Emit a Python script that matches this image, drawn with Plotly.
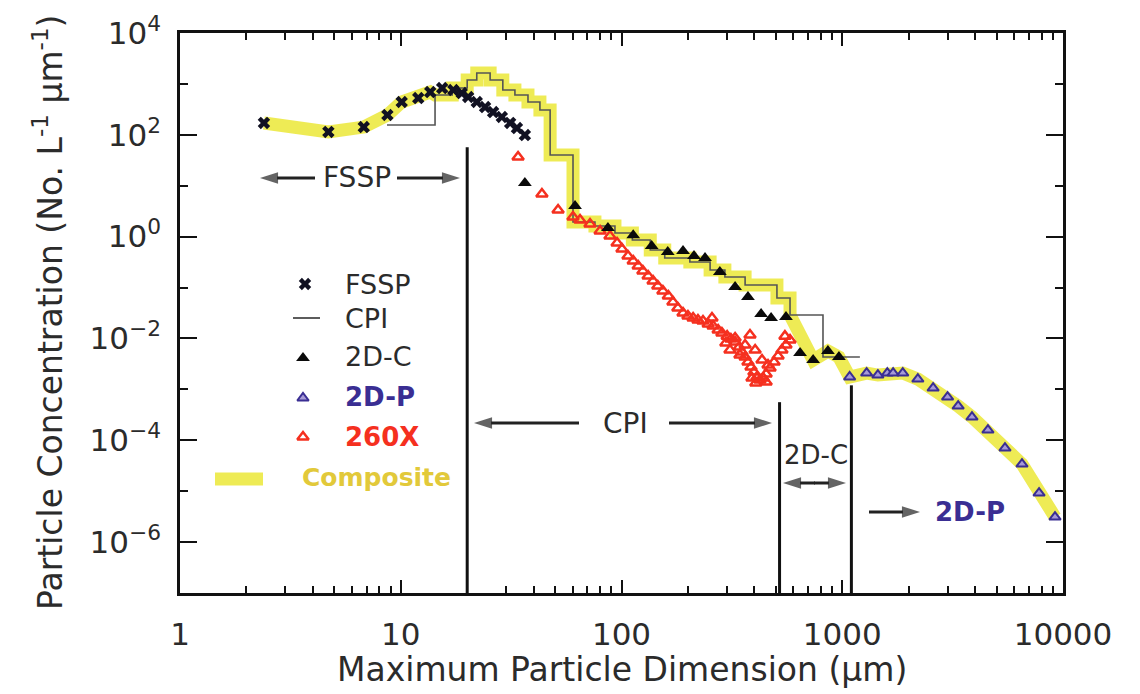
import plotly.graph_objects as go

FONT = "DejaVu Sans"

# ---- measured size distributions (diameter in µm, concentration in No. L^-1 µm^-1) ----
# FSSP
fssp_d = [2.4, 4.7, 6.8, 8.7, 10.1, 12.0, 13.6, 15.4, 17.3, 18.9, 20.2, 22.1, 24.1, 26.2,
          28.7, 31.3, 33.6, 36.5]
fssp_n = [171, 114, 142, 245, 441, 528, 693, 830, 759, 662, 553, 441, 351, 280, 224, 171,
          136, 99]

# CPI: bin edges and bin concentrations
cpi_edges = [8.66, 14.3, 17.1, 20.0, 22.1, 25.4, 29.0, 32.9, 37.7, 42.7, 47.5, 60.3, 75.8,
             93.4, 112, 135, 157, 204, 252, 294, 363, 506, 580, 818, 1202]
cpi_n = [156, 606, 830, 1193, 1638, 1193, 759, 606, 441, 307, 40.1, 1.94, 1.62, 1.18,
         0.857, 0.546, 0.380, 0.317, 0.221, 0.161, 0.112, 0.0622, 0.0288, 0.00431]

# 2D-C
twodc_d = [36.5, 61.6, 86.8, 113, 137, 162, 190, 213, 239, 279, 327, 374, 429, 476, 556,
           644, 738, 861, 966]
twodc_n = [11.3, 3.99, 1.48, 1.07, 0.653, 0.498, 0.521, 0.416, 0.380, 0.202, 0.102, 0.0651,
           0.0301, 0.0252, 0.0263, 0.00516, 0.00377, 0.00565, 0.00431]

# 2D-P
twodp_d = [1080, 1290, 1450, 1600, 1700, 1880, 2200, 2580, 3000, 3350, 3870, 4570, 5460,
           6520, 7790, 9200]
twodp_n = [1.75e-3, 2.09e-3, 1.91e-3, 2.09e-3, 2.09e-3, 2.09e-3, 1.59e-3, 1.06e-3, 7.06e-4,
           4.70e-4, 2.86e-4, 1.59e-4, 7.03e-5, 3.41e-5, 9.18e-6, 3.10e-6]

# 260X
p260_d = [34.0, 43.6, 51.6, 60.3, 64.9, 72.0, 80.0, 88.7, 95.5, 100.5, 107, 113, 119, 125,
          132, 139, 146, 154, 163, 171, 180, 190, 200, 211, 222, 234, 247, 260, 274, 285,
          301, 313, 327, 341, 351, 363, 374, 386, 398, 411, 424, 438, 452, 471, 491, 512,
          533, 556, 580, 327, 382, 363, 403, 433, 461, 406, 390, 297, 257, 310, 344, 452, 550]
p260_n = [36.6, 6.87, 3.33, 2.43, 2.12, 1.77, 1.29, 1.03, 0.748, 0.570, 0.416, 0.332, 0.264,
          0.211, 0.168, 0.134, 0.107, 0.0853, 0.0681, 0.0519, 0.0395, 0.0315, 0.0275, 0.0252,
          0.0230, 0.0220, 0.0192, 0.0175, 0.0146, 0.0128, 0.0111, 0.00973, 0.00849, 0.00678,
          0.00541, 0.00431, 0.00344, 0.00274, 0.00219, 0.00175, 0.00152, 0.00167, 0.00200,
          0.00262, 0.00344, 0.00451, 0.00592, 0.00741, 0.00931, 0.0102, 0.0117, 0.00741,
          0.00592, 0.00377, 0.00300, 0.00133, 0.00167, 0.00813, 0.0252, 0.00592, 0.00472,
          0.00139, 0.0111]

# instrument range boundaries (µm) and the height of each boundary line
range_edges = [20, 520, 1100]
range_tops = [57, 5.6e-4, 1.2e-3]

# composite: FSSP below the first CPI step, CPI steps up to 580 µm, 2D-C, then 2D-P
cpi_stop = 580
twodc_start = 700
comp_d, comp_n = [], []
for d, n in zip(fssp_d, fssp_n):
    if d < cpi_edges[1]:
        comp_d.append(d)
        comp_n.append(n)
i_stop = cpi_edges.index(cpi_stop)
for i in range(1, i_stop):
    comp_d += [cpi_edges[i], cpi_edges[i + 1]]
    comp_n += [cpi_n[i], cpi_n[i]]
comp_d.append(cpi_edges[i_stop])
comp_n.append(cpi_n[i_stop])
for d, n in zip(twodc_d, twodc_n):
    if twodc_start < d < twodp_d[0]:
        comp_d.append(d)
        comp_n.append(n)
comp_d += twodp_d
comp_n += twodp_n

# ---- colours ----
YELLOW = "rgba(236,232,62,0.88)"
RED = "#f5301f"
BLUE = "#3a2e93"
BLUE_FILL = "#a79ad6"
GOLD = "#e2c93a"
INK = "#2b2b2b"
ARROW = "#222222"

# plot area in figure pixels
L, R, T, B = 180, 1063, 33, 593
W, H = 1140, 694


def fx(px):
    return (px - L) / (R - L)


def fy(py):
    return (B - py) / (B - T)


fig = go.Figure()

fig.add_trace(go.Scatter(x=comp_d, y=comp_n, mode="lines",
                         line=dict(color=YELLOW, width=13), hoverinfo="skip"))
fig.add_trace(go.Scatter(x=cpi_edges, y=cpi_n + [cpi_n[-1]], mode="lines",
                         line=dict(color="#555555", width=1.6, shape="hv")))
for xe, yt in zip(range_edges, range_tops):
    fig.add_trace(go.Scatter(x=[xe, xe], y=[1e-7, yt], mode="lines",
                             line=dict(color="#111111", width=3)))
fig.add_trace(go.Scatter(x=p260_d, y=p260_n, mode="markers",
                         marker=dict(symbol="triangle-up-open", size=10, color=RED,
                                     line=dict(color=RED, width=2.5))))
fig.add_trace(go.Scatter(x=twodc_d, y=twodc_n, mode="markers",
                         marker=dict(symbol="triangle-up", size=12, color="#0a0a0a",
                                     line=dict(width=0))))
fig.add_trace(go.Scatter(x=fssp_d, y=fssp_n, mode="markers",
                         marker=dict(symbol="x", size=11, color="#111122",
                                     line=dict(width=0))))
fig.add_trace(go.Scatter(x=twodp_d, y=twodp_n, mode="markers",
                         marker=dict(symbol="triangle-up", size=10, color=BLUE_FILL,
                                     line=dict(color=BLUE, width=2))))

# ---- key and range arrows (drawn on a 0..1 overlay axis) ----
key_markers = [
    (305, 284, dict(symbol="x", size=11, color="#111122", line=dict(width=0))),
    (303, 358, dict(symbol="triangle-up", size=12, color="#0a0a0a", line=dict(width=0))),
    (303, 398, dict(symbol="triangle-up", size=10, color=BLUE_FILL, line=dict(color=BLUE, width=2))),
    (303, 437, dict(symbol="triangle-up-open", size=10, color=RED, line=dict(color=RED, width=2.5))),
]
for kx, ky, mk in key_markers:
    fig.add_trace(go.Scatter(x=[fx(kx)], y=[fy(ky)], mode="markers", marker=mk,
                             xaxis="x2", yaxis="y2", cliponaxis=False))
fig.add_trace(go.Scatter(x=[fx(293), fx(320)], y=[fy(318), fy(318)], mode="lines",
                         line=dict(color="#333333", width=1.6), xaxis="x2", yaxis="y2"))
fig.add_trace(go.Scatter(x=[fx(215), fx(263)], y=[fy(479), fy(479)], mode="lines",
                         line=dict(color=YELLOW, width=13), xaxis="x2", yaxis="y2"))


def arrow(head_px, tail_px, py):
    fig.add_trace(go.Scatter(
        x=[fx(tail_px), fx(head_px)], y=[fy(py), fy(py)], mode="lines+markers",
        line=dict(color=ARROW, width=3),
        marker=dict(symbol="arrow", angleref="previous", size=[0, 19], color=ARROW,
                    line=dict(width=0)),
        xaxis="x2", yaxis="y2", cliponaxis=False))


arrow(260, 315, 178)
arrow(460, 397, 178)
arrow(474, 579, 423)
arrow(772, 669, 423)
arrow(783, 815, 483)
arrow(846, 814, 483)
arrow(920, 869, 512)

annotations = []


def label(text, px, py, size=27, color=INK, xanchor="left", bold=False):
    if bold:
        text = "<b>" + text + "</b>"
    annotations.append(dict(text=text, x=fx(px), y=fy(py), xref="paper", yref="paper",
                            xanchor=xanchor, yanchor="middle", showarrow=False,
                            font=dict(family=FONT, size=size, color=color)))


label("FSSP", 343, 284)
label("CPI", 343, 318)
label("2D-C", 343, 357)
label("2D-P", 343, 397, color=BLUE, bold=True, size=26)
label("260X", 343, 437, color=RED, bold=True, size=26)
label("Composite", 300, 477, color=GOLD, bold=True, size=25)

label("FSSP", 357, 178, xanchor="center", size=28)
label("CPI", 625, 423, xanchor="center", size=28)
label("2D-C", 816, 455, xanchor="center", size=26)
label("2D-P", 933, 512, color=BLUE, bold=True, size=26)

# axis titles
annotations.append(dict(text="Maximum Particle Dimension (µm)", x=0.5, y=fy(669),
                        xref="paper", yref="paper", xanchor="center", yanchor="middle",
                        showarrow=False, font=dict(family=FONT, size=33, color=INK)))
annotations.append(dict(text="Particle Concentration (No. L<sup>-1</sup> µm<sup>-1</sup>)",
                        x=fx(48), y=fy(313), xref="paper", yref="paper", textangle=-90,
                        xanchor="center", yanchor="middle", showarrow=False,
                        font=dict(family=FONT, size=33, color=INK)))

x_ticks = [1, 10, 100, 1000, 10000]
x_ticktext = ["1", "10", "100", "1000", "10000"]
y_ticks = [1e4, 1e2, 1e0, 1e-2, 1e-4, 1e-6]
y_ticktext = ["10<sup>4</sup>", "10<sup>2</sup>", "10<sup>0</sup>", "10<sup>\u22122</sup>",
              "10<sup>\u22124</sup>", "10<sup>\u22126</sup>"]

axis_common = dict(type="log", showline=True, linewidth=2.5, linecolor="#111111",
                   mirror="ticks", ticks="inside", tickwidth=2, tickcolor="#111111",
                   showgrid=False, zeroline=False, tickmode="array",
                   tickfont=dict(family=FONT, size=31, color=INK))

fig.update_layout(
    width=W, height=H,
    margin=dict(l=L, r=W - R, t=T, b=H - B, pad=0),
    paper_bgcolor="white", plot_bgcolor="white",
    showlegend=False,
    xaxis=dict(range=[0, 4], tickvals=x_ticks, ticktext=x_ticktext, ticklen=13,
               ticklabelstandoff=12,
               minor=dict(tickmode="array",
                          tickvals=[m * 10 ** k for k in range(4) for m in range(2, 10)],
                          ticks="inside", ticklen=7, tickwidth=1.6, tickcolor="#111111"),
               **axis_common),
    yaxis=dict(range=[-7, 4], tickvals=y_ticks, ticktext=y_ticktext, ticklen=17,
               ticklabelstandoff=10,
               minor=dict(tickmode="array", tickvals=[1e3, 1e1, 1e-1, 1e-3, 1e-5],
                          ticks="inside", ticklen=8, tickwidth=2, tickcolor="#111111"),
               **axis_common),
    xaxis2=dict(overlaying="x", range=[0, 1], visible=False, anchor="y2"),
    yaxis2=dict(overlaying="y", range=[0, 1], visible=False, anchor="x2"),
    annotations=annotations,
)

fig.write_html("out.html")
